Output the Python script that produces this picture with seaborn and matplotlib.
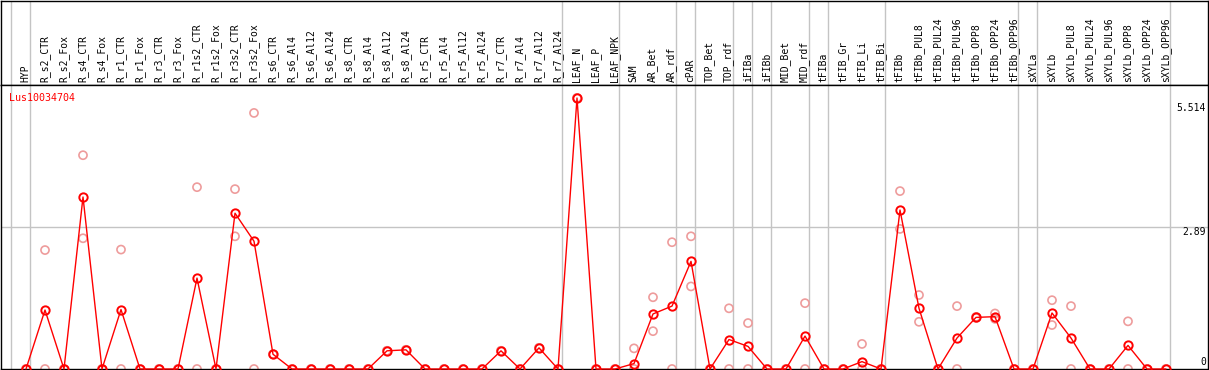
import numpy as np
import pandas as pd
import matplotlib
matplotlib.use("Agg")
import matplotlib.pyplot as plt
import seaborn as sns

sns.set_theme(style="white")
plt.rcParams["font.family"] = ["DejaVu Sans Mono", "DejaVu Sans"]

gene = "Lus10034704"

samples = [
    "HYP",
    "R_s2_CTR", "R_s2_Fox", "R_s4_CTR", "R_s4_Fox", "R_r1_CTR", "R_r1_Fox",
    "R_r3_CTR", "R_r3_Fox", "R_r1s2_CTR", "R_r1s2_Fox", "R_r3s2_CTR", "R_r3s2_Fox",
    "R_s6_CTR", "R_s6_Al4", "R_s6_Al12", "R_s6_Al24", "R_s8_CTR", "R_s8_Al4",
    "R_s8_Al12", "R_s8_Al24", "R_r5_CTR", "R_r5_Al4", "R_r5_Al12", "R_r5_Al24",
    "R_r7_CTR", "R_r7_Al4", "R_r7_Al12", "R_r7_Al24",
    "LEAF_N", "LEAF_P", "LEAF_NPK",
    "SAM", "AR_Bet", "AR_rdf",
    "cPAR",
    "TOP_Bet", "TOP_rdf",
    "iFIBa",
    "iFIBb",
    "MID_Bet", "MID_rdf",
    "tFIBa",
    "tFIB_Gr", "tFIB_Li", "tFIB_Bi",
    "tFIBb", "tFIBb_PUL8", "tFIBb_PUL24", "tFIBb_PUL96", "tFIBb_OPP8",
    "tFIBb_OPP24", "tFIBb_OPP96",
    "sXYLa",
    "sXYLb", "sXYLb_PUL8", "sXYLb_PUL24", "sXYLb_PUL96", "sXYLb_OPP8",
    "sXYLb_OPP24", "sXYLb_OPP96",
]
group_sizes = [1, 28, 3, 3, 1, 2, 1, 1, 2, 1, 3, 7, 1, 7]

# mean expression (dark red line)
mean_expr = [
    0,
    1.20, 0, 3.50, 0, 1.21, 0, 0, 0, 1.85, 0, 3.17, 2.60,
    0.30, 0, 0, 0, 0, 0, 0.37, 0.39, 0, 0, 0, 0, 0.37, 0, 0.43, 0,
    5.514, 0, 0,
    0.11, 1.12, 1.28,
    2.19,
    0, 0.60,
    0.46,
    0,
    0, 0.67,
    0,
    0, 0.15, 0,
    3.235, 1.235, 0, 0.63, 1.05, 1.065, 0,
    0,
    1.14, 0.63, 0, 0, 0.48, 0, 0,
]
# replicates (light circles)
rep_hi = [
    0,
    2.42, 0, 4.35, 0, 2.43, 0, 0, 0, 3.70, 0, 3.66, 5.21,
    0.30, 0, 0, 0, 0, 0, 0.37, 0.39, 0, 0, 0, 0, 0.37, 0, 0.43, 0,
    5.514, 0, 0,
    0.42, 1.46, 2.58,
    2.70,
    0, 1.235,
    0.935,
    0,
    0, 1.34,
    0,
    0, 0.51, 0,
    3.62, 1.505, 0, 1.28, 1.06, 1.13, 0,
    0,
    1.40, 1.28, 0, 0, 0.97, 0, 0,
]
rep_lo = [
    0,
    0, 0, 2.66, 0, 0, 0, 0, 0, 0, 0, 2.70, 0,
    0.30, 0, 0, 0, 0, 0, 0.37, 0.39, 0, 0, 0, 0, 0.37, 0, 0.43, 0,
    5.514, 0, 0,
    0, 0.77, 0,
    1.68,
    0, 0,
    0,
    0,
    0, 0,
    0,
    0, 0, 0,
    2.85, 0.96, 0, 0, 1.04, 1.02, 0,
    0,
    0.895, 0, 0, 0, 0, 0, 0,
]
y_ticks = [5.514, 2.89, 0]

pos = np.arange(len(samples))
df_mean = pd.DataFrame({"pos": pos, "expr": mean_expr})
df_rep = pd.DataFrame({"pos": np.concatenate([pos, pos]),
                       "expr": rep_hi + rep_lo})

W, H = 1209, 370
fig = plt.figure(figsize=(W / 100, H / 100), dpi=100)
ax_h = fig.add_axes([1 / W, (H - 85) / H, (W - 2) / W, 84 / H])
ax = fig.add_axes([1 / W, 1 / H, (W - 2) / W, 284 / H])

xlim = (-25 / 19, 1182 / 19)
ymax = max(mean_expr) * 284 / 271
grid_col = "#c4c4c4"
bounds = np.concatenate([[0], np.cumsum(group_sizes)]) - 0.78

for a in (ax_h, ax):
    a.set_xlim(*xlim)
    a.set_xticks([])
    a.set_yticks([])
    for s in a.spines.values():
        s.set_color("black")
        s.set_linewidth(1.0)
    for b in bounds:
        a.axvline(b, color=grid_col, lw=1.0, zorder=0)

ax_h.set_ylim(0, 1)
for i, name in enumerate(samples):
    ax_h.text(i - 0.02, 0.03, name, rotation=90, ha="center", va="bottom",
              fontsize=7, color="black")

ax.set_ylim(0, ymax)
ax.axhline(2.89, color=grid_col, lw=1.0, zorder=0)

sns.scatterplot(data=df_rep, x="pos", y="expr", ax=ax, marker="o", s=34,
                facecolors="none", edgecolor="#ee9c9c", linewidth=1.2,
                clip_on=False, zorder=2)
sns.lineplot(data=df_mean, x="pos", y="expr", ax=ax, color="red", lw=1.0,
             marker="o", markersize=6, markerfacecolor="none",
             markeredgecolor="red", markeredgewidth=1.4, clip_on=False,
             zorder=3)
ax.set_xlabel("")
ax.set_ylabel("")

ax.annotate(gene, xy=(0, 1), xycoords="axes fraction", xytext=(8, -13),
            textcoords="offset pixels", ha="left", va="center",
            fontsize=7.2, color="red")

for v, dy in zip(y_ticks, (-10, -5, 7)):
    ax.annotate(f"{v:g}", xy=(1, v), xycoords=("axes fraction", "data"),
                xytext=(-2, dy), textcoords="offset pixels",
                ha="right", va="center", fontsize=7, color="black")

fig.savefig("out.png", dpi=100, facecolor="white")
